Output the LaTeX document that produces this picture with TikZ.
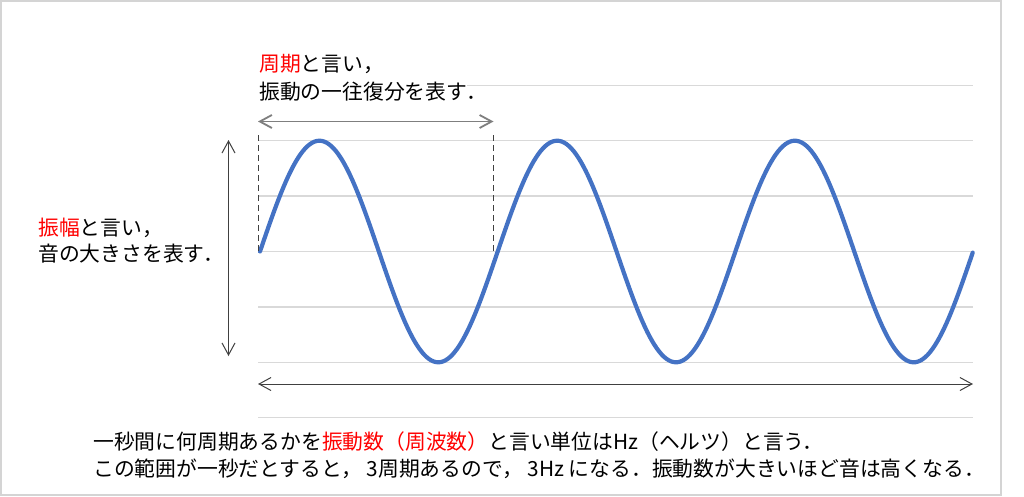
\documentclass[tikz,border=0pt]{standalone}
\usepackage{fontspec}
\setmainfont{Noto Sans CJK JP}
\usetikzlibrary{arrows.meta}
\definecolor{gridc}{HTML}{D9D9D9}
\definecolor{wavec}{HTML}{4472C4}
\definecolor{framec}{HTML}{D4D4D4}
\definecolor{darkarrow}{HTML}{404040}
\definecolor{grayarrow}{HTML}{7F7F7F}
\definecolor{dashc}{HTML}{404040}
\begin{document}
\begin{tikzpicture}[x=1pt,y=-1pt,
  gridline/.style={draw=gridc, line width=1.5pt},
  lbl/.style={inner sep=0pt, anchor=base west, font=\fontsize{20.8}{27}\selectfont},
  barbs/.style={{Straight Barb[length=12pt,width=13pt]}-{Straight Barb[length=12pt,width=13pt]}},
  dimarrow/.style={barbs, draw=darkarrow, line width=1pt},
  periodarrow/.style={barbs, draw=grayarrow, line width=1.8pt},
  guide/.style={draw=dashc, line width=0.8pt, dash pattern=on 6pt off 4pt},
  wave/.style={draw=wavec, line width=4.2pt, line join=round, line cap=round}]
\useasboundingbox (0,0) rectangle (1024,496);
\fill[white] (0,0) rectangle (1024,496);
\draw[draw=framec, line width=2pt] (1,1) rectangle (1001,495);
% grid lines
\draw[gridline] (467,85.3) -- (973,85.3);
\foreach \yy in {140.7,196.1,251.5,306.9,362.3,417.7}
  \draw[gridline] (258,\yy) -- (973,\yy);
% wave
\draw[wave] plot[domain=0:3, samples=301] ({260+237.7*\x},{251.5-110.8*sin(360*\x)});
% coordinates
\coordinate (d1t) at (258,135);
\coordinate (d1b) at (258,251);
\coordinate (d2t) at (493.5,135);
\coordinate (d2b) at (493.5,251);
\coordinate (pl) at (258,121.5);
\coordinate (pr) at (493.5,121.5);
\coordinate (at) at (228.5,140);
\coordinate (ab) at (228.5,356);
\coordinate (bl) at (258,384);
\coordinate (br) at (973,384);
% dashed guides
\draw[guide] (d1t) -- (d1b);
\draw[guide] (d2t) -- (d2b);
% arrows
\draw[periodarrow] (pl) -- (pr);
\draw[dimarrow] (at) -- (ab);
\draw[dimarrow] (bl) -- (br);
% texts
\node[lbl] (t1) at (259,71) {\textcolor{red}{周期}と言い，};
\node[lbl] (t2) at (259,99) {振動の一往復分を表す．};
\node[lbl] (a1) at (38,235) {\textcolor{red}{振幅}と言い，};
\node[lbl] (a2) at (38,261) {音の大きさを表す．};
\node[lbl] (b1) at (93,449.5) {一秒間に何周期あるかを\textcolor{red}{振動数（周波数）}と言い単位はHz（ヘルツ）と言う．};
\node[lbl] (b2) at (93,476) {この範囲が一秒だとすると， 3周期あるので， 3Hz になる．振動数が大きいほど音は高くなる．};
\end{tikzpicture}
\end{document}
